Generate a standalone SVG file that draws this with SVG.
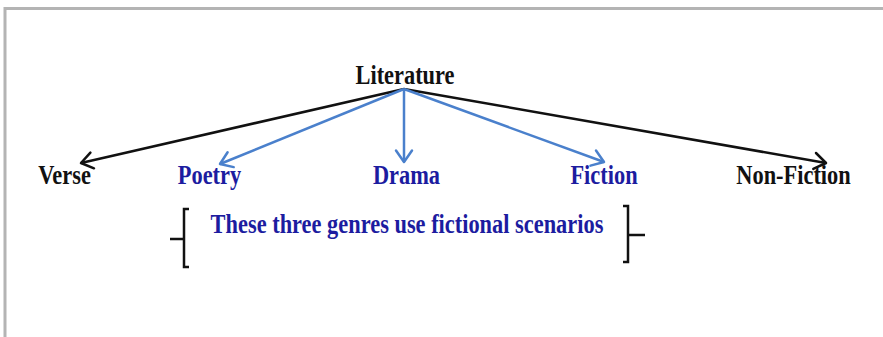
<svg xmlns="http://www.w3.org/2000/svg" width="883" height="337" viewBox="0 0 883 337">
<defs>
<style>
text{font-family:"Liberation Serif","Times New Roman",serif;font-weight:bold;font-size:22.4px;text-anchor:middle}
.k{fill:#111}
.b{fill:#1c1ca0}
.ck{stroke:#111;stroke-width:2.5;fill:none}
.cb{stroke:#4a80cc;stroke-width:2.5;fill:none}
.ah{fill:none;stroke-width:2.5;stroke-linecap:round;stroke-linejoin:round}
.br{stroke:#111;stroke-width:2.5;fill:none}
</style>
</defs>
<rect x="0" y="0" width="883" height="337" fill="#fff"/>
<path d="M5,337 V8.5 H883" fill="none" stroke="#b4b4b4" stroke-width="3"/>
<g id="connectors">
<line class="ck" x1="404" y1="89" x2="81" y2="163"/>
<path class="ah" stroke="#111" d="M90.4,152.6 L81,163 L94,168.3"/>
<line class="ck" x1="404" y1="89" x2="826" y2="163"/>
<path class="ah" stroke="#111" d="M816,153 L826,163 L813.3,168.9"/>
<line class="cb" x1="404" y1="89" x2="220" y2="164"/>
<path class="ah" stroke="#4a80cc" d="M227.6,152.2 L220,164 L233.7,167.1"/>
<line class="cb" x1="404" y1="89" x2="404" y2="162"/>
<path class="ah" stroke="#4a80cc" d="M396,150.5 L404,162 L412,150.5"/>
<line class="cb" x1="404" y1="89" x2="604" y2="162"/>
<path class="ah" stroke="#4a80cc" d="M596,150.5 L604,162 L590.5,165.6"/>
</g>
<g id="literature"><text class="k" transform="matrix(1,0,0,1.18,405,84)">Literature</text></g>
<g id="verse"><text class="k" transform="matrix(1,0,0,1.18,64.5,184)">Verse</text></g>
<g id="poetry"><text class="b" transform="matrix(1,0,0,1.18,209.5,184)">Poetry</text></g>
<g id="drama"><text class="b" transform="matrix(1,0,0,1.18,406.5,184)">Drama</text></g>
<g id="fiction"><text class="b" transform="matrix(1,0,0,1.18,604,184)">Fiction</text></g>
<g id="nonfiction"><text class="k" transform="matrix(1,0,0,1.18,793.5,184)">Non-Fiction</text></g>
<g id="note">
<path class="br" d="M189,209 H184 V267 H189 M170,239 H184"/>
<path class="br" d="M623,206 H628 V262 H623 M628,235 H645"/>
<text class="b" transform="matrix(1,0,0,1.18,407,233)">These three genres use fictional scenarios</text>
</g>
</svg>
